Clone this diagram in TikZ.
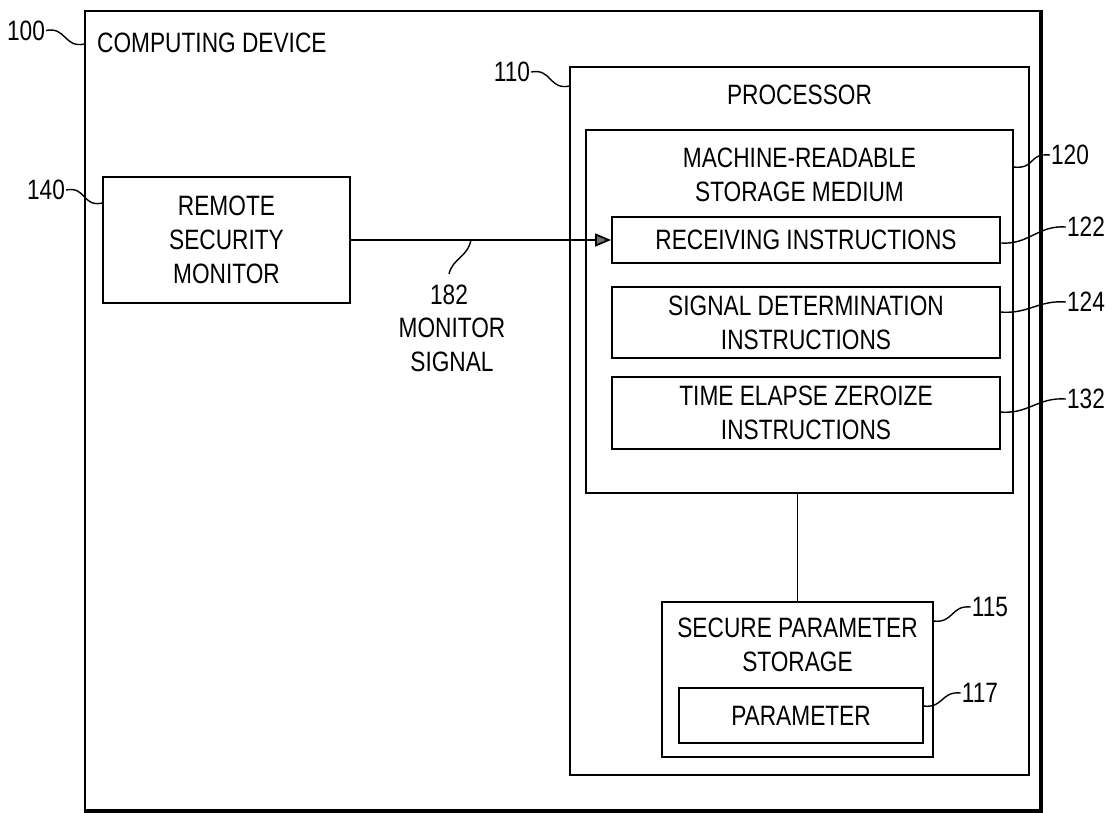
\documentclass[tikz,border=0pt]{standalone}
\usepackage{fontspec}
\setmainfont{Liberation Sans}[FakeStretch=0.81]
\usetikzlibrary{arrows.meta}
\begin{document}
\begin{tikzpicture}[x=1pt, y=-1pt,
    font=\fontsize{28}{34}\selectfont,
    box/.style={draw, line width=1.8pt, inner sep=0pt, align=center},
    txt/.style={inner sep=0pt, align=center},
    num/.style={inner sep=1pt},
    lead/.style={line width=1.4pt}]
      \useasboundingbox (0, 0) rectangle (1113, 813);

      \node[box, minimum width=955pt, minimum height=799pt] (dev) at (562.5, 410.5) {};
      \draw[line width=4.5pt] (dev.north east) -- (dev.south east) -- (dev.south west);
      \node[txt, anchor=west] (devtxt) at (97, 42.5) {COMPUTING DEVICE};
      \node[num] (l100) at (26, 30.5) {100};
      \draw[lead] (l100.east) .. controls +(20, -4) and +(-20, 4) .. ([yshift=-34pt]dev.north west);

      \node[box, minimum width=247pt, minimum height=126pt] (rsm) at (226.5, 240) {REMOTE\\SECURITY\\MONITOR};
      \node[num] (l140) at (46, 190) {140};
      \draw[lead] (l140.east) .. controls +(20, -4) and +(-20, 4) .. ([yshift=-27pt]rsm.north west);

      \node[box, minimum width=459pt, minimum height=708pt] (proc) at (799.5, 421) {};
      \node[txt] (proctxt) at (799.5, 95) {PROCESSOR};
      \node[num] (l110) at (512, 72) {110};
      \draw[lead] (l110.east) .. controls +(20, -4) and +(-20, 4) .. ([yshift=-20pt]proc.north west);

      \node[box, minimum width=427pt, minimum height=363pt] (msm) at (799.5, 311.5) {};
      \node[txt] (msmtxt) at (799.5, 175) {MACHINE-READABLE\\STORAGE MEDIUM};
      \node[num] (l120) at (1070, 155) {120};
      \draw[lead] ([yshift=-38pt]msm.north east) .. controls +(22, 2) and +(-22, -2) .. (l120.west);

      \node[box, minimum width=388pt, minimum height=46pt] (recv) at (806, 240) {RECEIVING INSTRUCTIONS};
      \node[num] (l122) at (1086, 227) {122};
      \draw[lead] ([yshift=-3pt]recv.east) .. controls +(28, 2) and +(-28, -2) .. (l122.west);

      \node[box, minimum width=388pt, minimum height=71pt] (sig) at (806, 322.5) {SIGNAL DETERMINATION\\INSTRUCTIONS};
      \node[num] (l124) at (1086, 302) {124};
      \draw[lead] ([yshift=-26pt]sig.north east) .. controls +(28, 2) and +(-28, -2) .. (l124.west);

      \node[box, minimum width=388pt, minimum height=72pt] (tez) at (806, 413) {TIME ELAPSE ZEROIZE\\INSTRUCTIONS};
      \node[num] (l132) at (1086, 399) {132};
      \draw[lead] ([yshift=-36pt]tez.north east) .. controls +(28, 2) and +(-28, -2) .. (l132.west);

      \node[box, minimum width=271pt, minimum height=155pt] (sps) at (797.5, 679.5) {};
      \node[txt] (spstxt) at (797.5, 644.5) {SECURE PARAMETER\\STORAGE};
      \node[num] (l115) at (990, 607) {115};
      \draw[lead] ([yshift=-20pt]sps.north east) .. controls +(20, 2) and +(-20, -2) .. (l115.west);

      \node[box, minimum width=244pt, minimum height=55pt] (par) at (801, 715.5) {PARAMETER};
      \node[num] (l117) at (980, 693) {117};
      \draw[lead] ([yshift=-19pt]par.north east) .. controls +(20, 2) and +(-20, -2) .. (l117.west);

      \draw[line width=1.8pt] (sps.north |- msm.south) -- (sps.north);

      \draw[line width=1.8pt, -{Triangle[length=16pt, width=13pt, fill=black!55]}] (rsm.east) -- (recv.west);
      \coordinate (tap) at (471, 240);
      \node[num] (l182) at (449, 295) {182};
      \node[txt] (sigtxt) at (452, 344.5) {MONITOR\\SIGNAL};
      \draw[lead] (tap) .. controls +(-4, 18) and +(4, -16) .. ([yshift=10pt]l182.north);
    \end{tikzpicture}
\end{document}
